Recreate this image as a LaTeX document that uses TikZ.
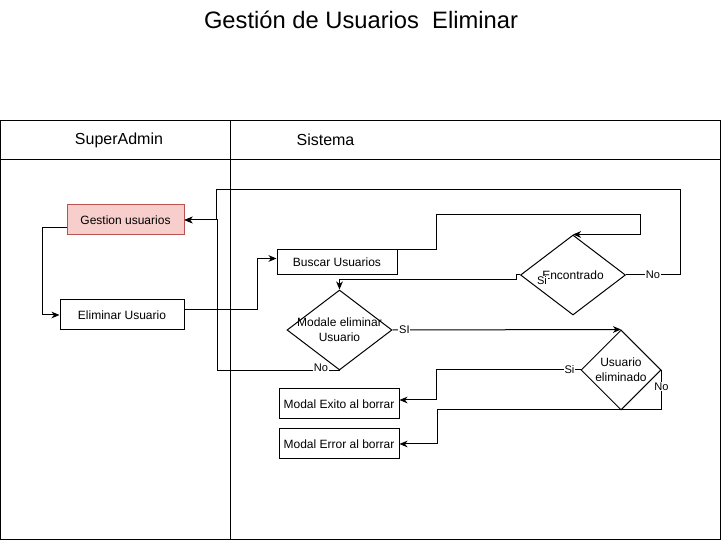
\documentclass[tikz,border=0pt]{standalone}
\usepackage{fontspec}
\setmainfont{Liberation Sans}
\usetikzlibrary{shapes.geometric, arrows.meta}
\tikzset{
	box/.style = {draw, line width=0.75pt, font=\fontsize{9}{11}\selectfont, inner sep=0pt, minimum height=22.5pt},
	decision/.style = {draw, diamond, line width=0.75pt, inner sep=0pt},
	flow/.style = {line width=0.75pt, -{Stealth[length=6pt, width=5pt, inset=1.8pt]}},
	tag/.style = {fill=white, inner sep=0.5pt, font=\fontsize{8.3}{9}\selectfont},
	lane/.style = {line width=0.75pt},
	every label/.style = {font=\fontsize{9}{11}\selectfont, align=center, inner sep=0pt},
}
\definecolor{xpink}{HTML}{F8CECC}
\definecolor{xrose}{HTML}{B85450}

\begin{document}
\begin{tikzpicture}[x=0.75pt, y=-0.75pt]
	\useasboundingbox (0,0) rectangle (722,541);
	\node[font=\fontsize{17.8}{20}\selectfont] (title) at (361,20) {Gestión de Usuarios\ \ Eliminar};
	\draw[lane] (0.5,121) rectangle (720,540);
	\draw[lane] (0.5,160) -- (720,160);
	\draw[lane] (230,121) -- (230,540);
	\node[font=\fontsize{12}{14}\selectfont] (admin) at (119,140) {SuperAdmin};
	\node[font=\fontsize{12}{14}\selectfont] (sistema) at (325.5,140) {Sistema};
	\node[box, fill=xpink, draw=xrose, minimum width=87.75pt] (gestion) at (125.5,220) {Gestion usuarios};
	\node[box, minimum width=93pt] (eliminar) at (122,315) {Eliminar Usuario};
	\node[box, minimum width=90pt, minimum height=18.75pt] (buscar) at (337,262.5) {Buscar Usuarios};
	\node[box, minimum width=90pt] (exito) at (339,404) {Modal Exito al borrar};
	\node[box, minimum width=90pt] (error) at (339,444) {Modal Error al borrar};
	\node[decision, minimum width=78.75pt, minimum height=60pt, label={center:Encontrado}] (encontrado) at (573,275) {};
	\node[decision, minimum width=78.75pt, minimum height=60pt, label={center:Modale eliminar\\Usuario}] (modale) at (339.5,330) {};
	\node[decision, minimum width=60pt, minimum height=60pt, label={center:Usuario\\eliminado}] (eliminado) at (621,370) {};
	\draw[flow] ([yshift=-6pt]gestion.west) -- ++(-24,0) |- (eliminar.west);
	\draw[flow] ([yshift=3.75pt]eliminar.east) -- ++(72.7,0) |- ([yshift=3pt]buscar.west);
	\draw[flow] (buscar.north east) -- ++(39,0) |- (640,215) |- (encontrado.north);
	\draw[flow] (encontrado.west) node[tag, xshift=16.5pt, yshift=-4.5pt] {Si} -- ++(-4,0) -- ++(0,5) -| (modale.north);
	\draw[flow] (encontrado.east) -- ++(54,0) node[tag, midway] {No} |- (216.7,190) |- (gestion.east);
	\draw[flow] (modale.south) node[tag, xshift=-13.9pt, yshift=2.25pt] {No} -| ([xshift=24.5pt]gestion.east) -- (gestion.east);
	\draw[flow] (modale.east) -- node[tag, pos=0.052] {SI} (eliminado.north);
	\draw[flow] (eliminado.west) -- node[tag, pos=0.076] {Si} ++(-144.3,0) |- ([yshift=3pt]exito.east);
	\draw[flow] (eliminado.east) -- node[tag, pos=0.42] {No} ++(0,40) -- ++(-224,0) |- (error.east);
\end{tikzpicture}
\end{document}
